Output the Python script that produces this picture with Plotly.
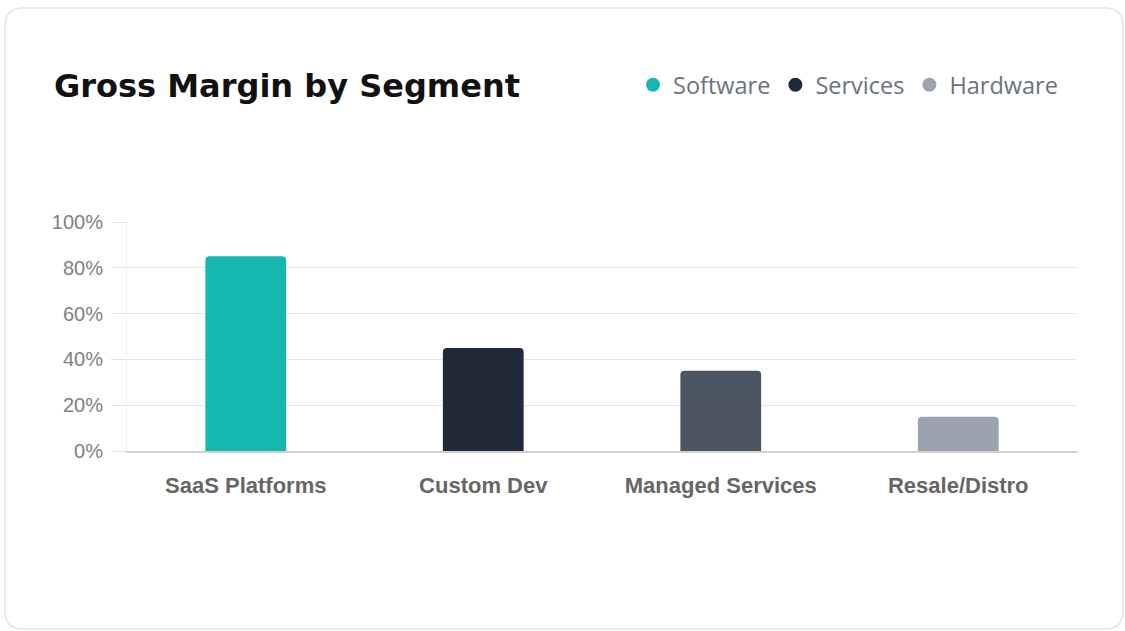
import plotly.graph_objects as go

categories = ["SaaS Platforms", "Custom Dev", "Managed Services", "Resale/Distro"]
margins = [85, 45, 35, 15]
bar_colors = ["#14b8ae", "#1f2937", "#4b5563", "#9ca3af"]
legend_names = ["Software", "Services", "Hardware"]
legend_colors = ["#14b8ae", "#1f2937", "#9ca3af"]
y_ticks = [0, 20, 40, 60, 80, 100]
y_tick_labels = ["0%", "20%", "40%", "60%", "80%", "100%"]

W, H = 1125, 631
L, R, T, B = 127, 48, 222, 180
pw, ph = W - L - R, H - T - B

def px(x):
    return (x - L) / pw

def py(y):
    return 1 - (y - T) / ph

fig = go.Figure()
fig.add_trace(go.Bar(
    x=categories, y=margins, marker=dict(color=bar_colors, cornerradius=4, line=dict(width=0)),
    width=0.34, showlegend=False, hoverinfo="x+y",
))
for n, c in zip(legend_names, legend_colors):
    fig.add_trace(go.Scatter(x=[None], y=[None], mode="markers", name=n,
                             marker=dict(color=c, size=14, symbol="circle")))

# card border
x0, y0, x1, y1, r = 5, 8, 1123, 629, 18
path = (f"M {px(x0+r)},{py(y0)} L {px(x1-r)},{py(y0)} Q {px(x1)},{py(y0)} {px(x1)},{py(y0+r)} "
        f"L {px(x1)},{py(y1-r)} Q {px(x1)},{py(y1)} {px(x1-r)},{py(y1)} "
        f"L {px(x0+r)},{py(y1)} Q {px(x0)},{py(y1)} {px(x0)},{py(y1-r)} "
        f"L {px(x0)},{py(y0+r)} Q {px(x0)},{py(y0)} {px(x0+r)},{py(y0)} Z")

fig.update_layout(
    width=W, height=H,
    margin=dict(l=L, r=R, t=T, b=B),
    paper_bgcolor="white", plot_bgcolor="white",
    shapes=[dict(type="path", path=path, xref="paper", yref="paper",
                 line=dict(color="#e3e5e8", width=1.5), layer="below")],
    title=dict(text="<b>Gross Margin by Segment</b>", x=54 / W, xanchor="left",
               xref="container", yref="container", y=1 - 86 / H, yanchor="middle",
               font=dict(family="DejaVu Sans", size=32, color="#111111")),
    legend=dict(orientation="h", xref="container", yref="container", x=1063 / W, xanchor="right",
                y=1 - 85 / H, yanchor="middle", font=dict(family="Open Sans", size=23.5, color="#6b7280"),
                itemwidth=30, tracegroupgap=0, bgcolor="rgba(0,0,0,0)"),
    xaxis=dict(showgrid=False, showline=True, linecolor="#d0d0d0", linewidth=2,
               ticks="", ticklabelstandoff=14,
               tickfont=dict(family="Liberation Sans", size=22, color="#666666", weight="bold")),
    yaxis=dict(range=[0, 100], tickmode="array", tickvals=y_ticks, ticktext=y_tick_labels,
               showgrid=True, gridcolor="#e8e8e8",
               gridwidth=1, zeroline=False, ticks="outside", ticklen=15, tickcolor="#e0e0e0",
               showline=True, linecolor="#f0f0f0", linewidth=1, ticklabelstandoff=4,
               tickfont=dict(family="Liberation Sans", size=20, color="#808080")),
)
fig.write_html("out.html", config={"displayModeBar": False},
               post_script="document.body.style.margin='0';document.body.style.overflow='hidden';")
